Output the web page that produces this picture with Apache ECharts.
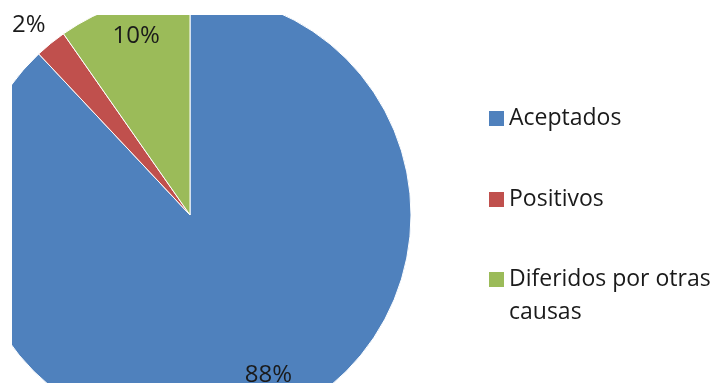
<!DOCTYPE html>
<html><head><meta charset="utf-8">
<script src="https://cdn.jsdelivr.net/npm/echarts@6/dist/echarts.min.js"></script>
<style>html,body{margin:0;padding:0;background:#fff}#c{width:715px;height:383px}</style>
</head><body><div id="c"></div>
<script>
// ---- data ----
const categories = ['Aceptados', 'Positivos', 'Diferidos por otras causas'];
const values = [88, 2.3, 9.7];
const colors = ['#4F81BD', '#C0504D', '#9BBB59'];

// ---- layout / style ----
const CX = 190, CY = 215, R = 221;
const labelRadius = [0.806, 1.127, 0.844]; // label distance as fraction of radius
const labelTurn = [4.5, 1.3, -0.7];        // degrees of turn from mid-angle
const FONT = 'Open Sans';
const TEXT = '#1a1a1a';

const total = values.reduce((a, b) => a + b, 0);
function labelPos(i) {
  let cum = 0;
  for (let k = 0; k < i; k++) cum += values[k];
  const mid = 90 - 360 * (cum + values[i] / 2) / total + labelTurn[i];
  const a = mid * Math.PI / 180;
  const r = R * labelRadius[i];
  return { x: CX + r * Math.cos(a), y: CY - r * Math.sin(a) };
}

const legendText = { fontFamily: FONT, fontSize: 23, lineHeight: 33, color: TEXT };

const chart = echarts.init(document.getElementById('c'), null, { renderer: 'canvas' });
chart.setOption({
  animation: false,
  textStyle: { fontFamily: FONT },
  legend: [
    {
      data: categories.slice(0, 2),
      orient: 'vertical', left: 489, top: 102, padding: 0,
      itemWidth: 15, itemHeight: 15, itemGap: 48, icon: 'rect',
      selectedMode: false,
      itemStyle: { borderWidth: 0 },
      textStyle: legendText
    },
    {
      data: categories.slice(2),
      orient: 'vertical', left: 489, top: 230, padding: 0,
      itemWidth: 15, itemHeight: 15, icon: 'rect',
      selectedMode: false,
      itemStyle: { borderWidth: 0 },
      formatter: '\n{name}',
      textStyle: Object.assign({}, legendText, { width: 212, overflow: 'break' })
    }
  ],
  graphic: [
    { type: 'rect', shape: { x: 0, y: 0, width: 715, height: 15 }, style: { fill: '#fff' }, z: 100, silent: true },
    { type: 'rect', shape: { x: 0, y: 0, width: 12, height: 383 }, style: { fill: '#fff' }, z: 100, silent: true }
  ],
  series: [{
    type: 'pie',
    center: [CX, CY],
    radius: R,
    startAngle: 90,
    clockwise: true,
    silent: true,
    percentPrecision: 0,
    avoidLabelOverlap: false,
    label: { show: true, position: 'inside', formatter: '{d}%', fontSize: 24, color: TEXT, fontFamily: FONT },
    labelLine: { show: false },
    labelLayout: function (p) {
      const q = labelPos(p.dataIndex);
      return { x: q.x, y: q.y, align: 'center', verticalAlign: 'middle' };
    },
    itemStyle: { borderColor: '#fff', borderWidth: 1 },
    data: categories.map((n, i) => ({ name: n, value: values[i], itemStyle: { color: colors[i] } }))
  }]
});
</script>
</body></html>
